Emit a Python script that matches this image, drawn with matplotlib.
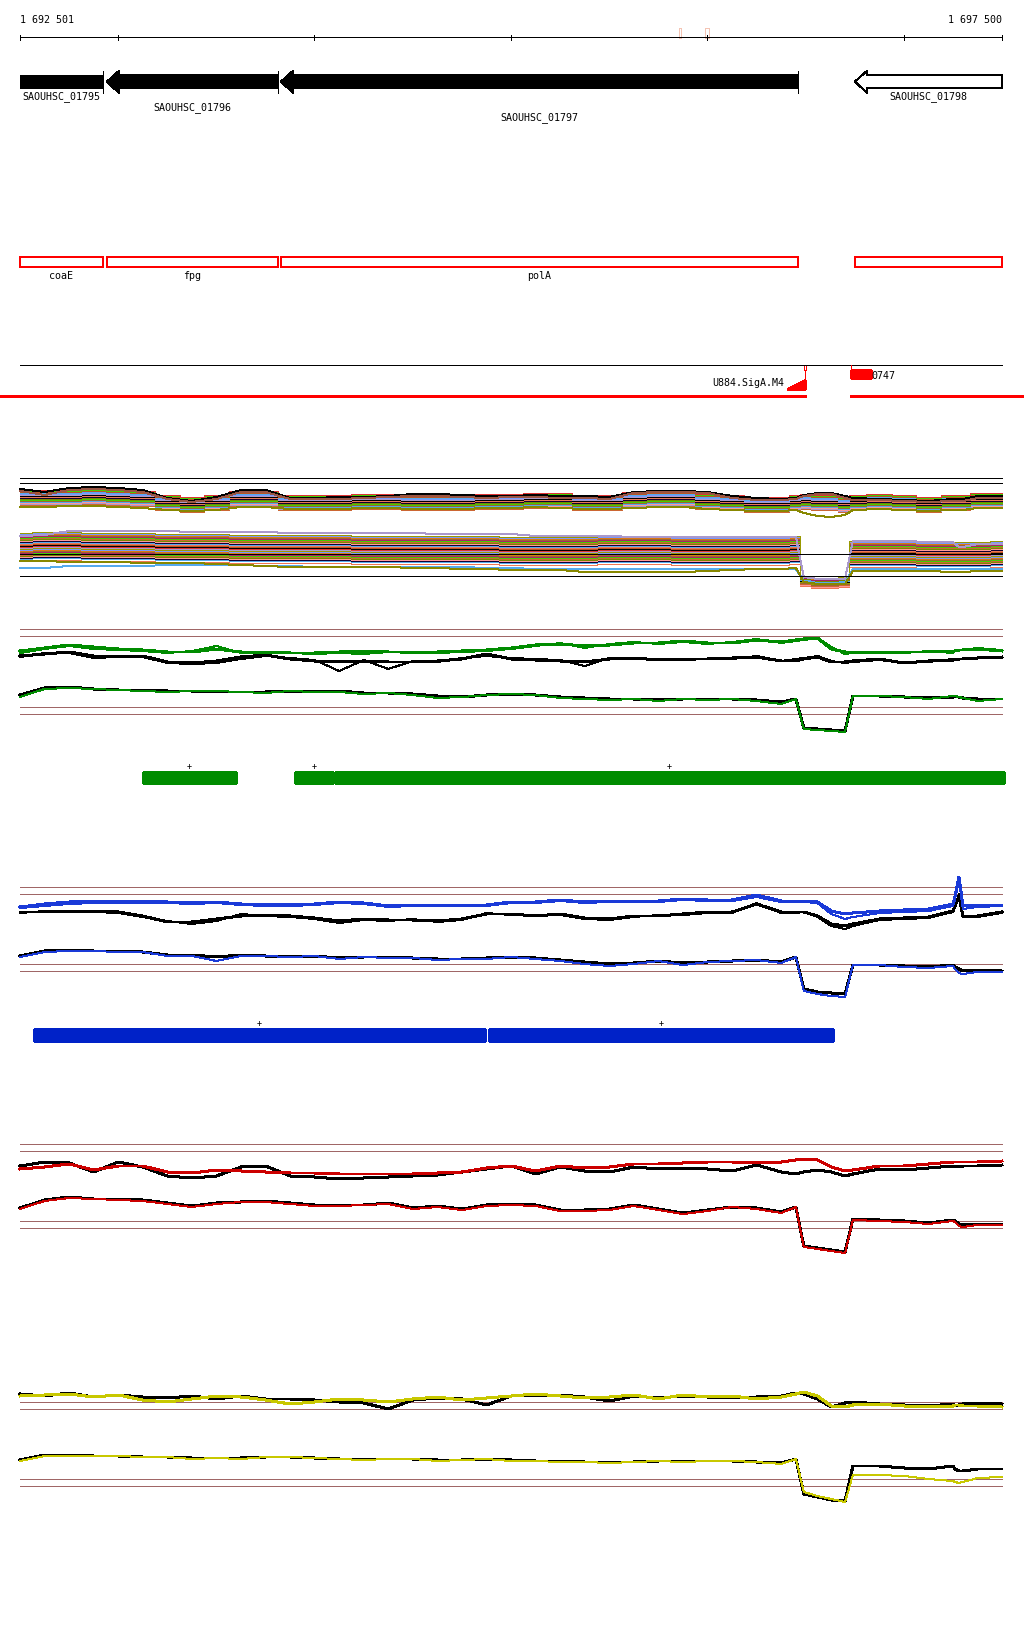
import numpy as np
import matplotlib.pyplot as plt
from matplotlib.patches import Polygon, Rectangle

plt.rcParams['lines.antialiased'] = False
plt.rcParams['patch.antialiased'] = False

W, H = 1024, 1640
debut, fin = 1692501, 1697500
bp_px = 4999 / 982.0
xg = debut - 20 * bp_px
xd = fin + 22 * bp_px
mono = 'DejaVu Sans Mono'
px1 = 0.72  # one pixel in points

# sample positions of the signal tracks (bp)
pos = [debut + o for o in list(range(0, 3876, 125)) +
       [3950, 3990, 4060, 4130, 4200, 4240, 4375, 4500, 4625, 4750, 4760, 4780, 4800, 4875, 4999]]

# genes / features
gene_names = ['SAOUHSC_01795', 'SAOUHSC_01796', 'SAOUHSC_01797', 'SAOUHSC_01798']
gene_left = [1692300, 1692944, 1693830, 1696752]
gene_right = [1692923, 1693814, 1696462, 1697700]
gene_fill = ['black', 'black', 'black', 'white']
gene_row = [0, 1, 2, 0]
feat_names = ['coaE', 'fpg', 'polA', '']
ticks = [debut, 1693000, 1694000, 1695000, 1696000, 1697000, fin]

# operons
green_left = [1693127, 1693901, 1694105]
green_right = [1693601, 1694094, 1697510]
blue_left = [1692572, 1694889]
blue_right = [1694868, 1696640]

# bundle track (many conditions)
up_mid = [102, 102, 102, 103, 102, 101, 97, 95, 97, 101, 101, 97, 97, 97, 98, 98, 97, 97, 97, 98,
          98, 99, 99, 97, 97, 100, 101, 101, 98, 97, 95, 95,
          97, 98, 97, 97, 95, 97, 98, 97, 95, 97, 97, 97, 97, 99, 99]
lo_mid = [52, 53, 53, 52, 52, 52, 51, 51, 51, 50, 50, 50, 50, 50, 49, 49, 49, 49, 49, 49,
          48, 48, 48, 48, 49, 49, 49, 48, 48, 48, 48, 48,
          49, 18, 16, 16, 17, 45, 45, 45, 44, 44, 44, 44, 44, 44, 45]
lo_spread = [1.0] * 32 + [1.0, 0.35, 0.35, 0.35, 0.35, 0.9, 0.9, 0.9, 0.9, 0.9, 0.9, 0.9, 0.9, 0.9, 0.9]
up_off = [-8, -7, -6, -5, -5, -4, -3, -3, -2, -2, -1, -1, 0, 0, 1, 1, 2, 2, 3, 3, 4, 5, 5, 6, 7]
lo_off = [-14, -12, -11, -10, -9, -8, -7, -6, -5, -4, -3, -2, -1, 0, 1, 2, 3, 4, 5, 6, 7, 8, 9, 10, 11, 12, 13, 14]
pal = ['#cc6633', '#ee7755', '#999900', '#44cc00', '#55aaee', '#aa99cc', '#aa2266', '#110033',
       '#dd3333', '#996633', '#ff9999', '#000000', '#dd7711', '#778800', '#bb5522', '#7799ff']
up_black_top = [110, 107, 111, 112, 111, 109, 101, 98, 102, 109, 109, 101, 101, 102, 102, 103, 105, 105, 104, 103,
                103, 104, 103, 103, 102, 107, 108, 108, 107, 103, 101, 100,
                101, 104, 106, 106, 103, 101, 100, 99, 98, 100, 100, 100, 100, 103, 103]
up_brown_top = [108, 104, 109, 110, 109, 107, 100, 97, 100, 107, 107, 100, 100, 100, 101, 102, 103, 103, 102, 101,
                102, 102, 101, 101, 100, 106, 107, 107, 106, 101, 99, 99,
                100, 103, 105, 105, 101, 99, 99, 98, 97, 98, 98, 98, 98, 101, 101]
up_low = [92, 92, 93, 93, 92, 91, 89, 88, 89, 92, 92, 90, 90, 90, 91, 91, 90, 90, 90, 91,
          91, 92, 91, 90, 90, 91, 92, 92, 90, 89, 88, 88,
          89, 86, 83, 82, 84, 89, 90, 89, 88, 89, 89, 89, 89, 91, 91]
lo_blue = [31, 31, 33, 33, 33, 33, 34, 34, 34, 34, 33, 33, 32, 32, 32, 32, 32, 32, 32, 31,
           31, 30, 30, 30, 30, 30, 30, 30, 30, 30, 30, 30,
           30, 18, 16, 16, 16, 30, 30, 30, 30, 30, 30, 30, 30, 30, 30]
lo_olive = [38, 38, 37, 37, 37, 36, 36, 36, 35, 34, 33, 32, 32, 32, 32, 32, 31, 31, 30, 30,
            29, 29, 29, 27, 27, 27, 27, 27, 28, 29, 30, 30,
            31, 17, 15, 15, 15, 28, 28, 28, 28, 27, 27, 27, 27, 28, 28]
lo_lav = [63, 64, 68, 68, 68, 68, 68, 67, 67, 67, 67, 66, 66, 66, 66, 66, 66, 65, 65, 65,
          65, 63, 63, 63, 63, 62, 62, 62, 62, 62, 62, 62,
          62, 22, 20, 20, 20, 58, 58, 58, 57, 57, 55, 52, 52, 55, 55]

# green track
g_up = [88, 91, 94, 92, 90, 89, 87, 87, 90, 87, 87, 86, 86, 87, 88, 87, 87, 87, 88, 89,
        91, 94, 95, 93, 94, 96, 96, 98, 96, 96, 99, 97,
        99, 100, 101, 90, 87, 87, 87, 87, 87, 88, 88, 89, 89, 90, 88]
g_up_thin = [86, 90, 93, 90, 89, 88, 86, 88, 93, 86, 86, 86, 85, 86, 85, 87, 86, 86, 87, 88,
             90, 93, 96, 91, 95, 97, 95, 97, 95, 97, 100, 96,
             98, 99, 101, 92, 85, 86, 86, 86, 88, 86, 88, 89, 89, 91, 89]
gk_up = [83, 85, 87, 83, 82, 83, 77, 76, 78, 82, 84, 80, 78, 77, 78, 77, 77, 78, 80, 85,
         80, 79, 78, 77, 80, 81, 79, 80, 80, 81, 82, 78,
         78, 80, 82, 77, 77, 78, 80, 76, 78, 79, 79, 80, 80, 81, 82]
gk_up_thin = [82, 86, 86, 81, 82, 82, 76, 75, 76, 80, 83, 81, 79, 68, 79, 70, 78, 77, 81, 83,
              81, 80, 79, 73, 81, 80, 80, 79, 80, 80, 83, 78,
              80, 81, 83, 78, 76, 77, 79, 76, 77, 80, 80, 80, 80, 81, 81]
g_lo = [42, 50, 51, 50, 49, 48, 47, 48, 48, 47, 46, 48, 47, 47, 45, 46, 44, 41, 42, 44,
        45, 44, 41, 40, 39, 40, 38, 40, 39, 40, 38, 35,
        40, 10, 9, 8, 7, 43, 43, 42, 40, 43, 43, 42, 41, 38, 40]
gk_lo = [44, 51, 52, 50, 49, 49, 48, 48, 47, 47, 47, 48, 47, 48, 46, 46, 45, 43, 42, 44,
         45, 44, 42, 41, 40, 40, 39, 40, 40, 40, 39, 37,
         40, 11, 10, 9, 8, 43, 43, 42, 41, 42, 42, 42, 41, 40, 40]

# blue track
b_up = [102, 105, 107, 108, 108, 108, 107, 106, 107, 105, 105, 104, 105, 107, 106, 103, 104, 103, 104, 104,
        107, 107, 109, 107, 108, 108, 108, 110, 109, 109, 114, 108,
        108, 108, 107, 98, 95, 96, 98, 99, 100, 105, 113, 132, 103, 104, 104]
b_up_thin = [101, 103, 105, 106, 106, 106, 106, 105, 106, 104, 103, 103, 104, 106, 105, 102, 103, 103, 103, 103,
             106, 106, 108, 106, 107, 107, 107, 109, 108, 108, 112, 107,
             107, 107, 106, 95, 90, 92, 96, 97, 98, 103, 110, 128, 100, 102, 103]
bk_up = [97, 97, 98, 98, 97, 93, 87, 87, 90, 93, 94, 93, 91, 88, 90, 89, 89, 88, 90, 95,
         95, 93, 95, 91, 90, 93, 93, 95, 97, 97, 105, 97,
         97, 97, 93, 85, 83, 85, 90, 91, 92, 98, 103, 113, 93, 93, 97]
bk_up_thin = [96, 98, 97, 97, 96, 92, 88, 85, 88, 95, 93, 92, 90, 86, 89, 88, 90, 87, 89, 96,
              94, 94, 94, 90, 89, 92, 94, 94, 96, 96, 106, 96,
              96, 97, 92, 83, 80, 83, 89, 90, 91, 97, 104, 115, 92, 92, 96]
b_lo = [52, 57, 58, 58, 57, 57, 53, 53, 48, 53, 53, 52, 53, 50, 52, 51, 51, 49, 50, 50,
        52, 50, 48, 45, 43, 45, 48, 44, 47, 48, 49, 46,
        52, 18, 15, 13, 12, 44, 44, 42, 41, 43, 40, 36, 35, 37, 37]
bk_lo = [53, 58, 59, 58, 58, 57, 54, 54, 52, 54, 53, 52, 53, 51, 52, 52, 51, 50, 50, 51,
         52, 51, 49, 47, 45, 46, 48, 46, 47, 48, 49, 47,
         52, 20, 17, 16, 15, 44, 44, 43, 42, 44, 42, 40, 38, 39, 38]

# red track
r_up = [100, 102, 105, 99, 103, 103, 97, 96, 99, 98, 97, 96, 96, 95, 95, 95, 95, 96, 97, 101,
        103, 98, 103, 101, 102, 105, 105, 106, 107, 107, 106, 107,
        109, 110, 109, 102, 98, 99, 103, 103, 105, 107, 107, 107, 107, 107, 108]
rk_up = [103, 107, 106, 97, 107, 102, 93, 91, 93, 102, 103, 93, 92, 90, 91, 92, 93, 94, 97, 100,
         103, 95, 102, 98, 97, 102, 100, 101, 100, 98, 104, 97,
         95, 97, 99, 97, 93, 95, 100, 99, 101, 103, 103, 102, 103, 103, 104]
r_lo = [60, 68, 71, 70, 69, 68, 65, 62, 65, 67, 67, 65, 63, 63, 64, 65, 60, 62, 59, 63,
        64, 63, 58, 58, 59, 63, 59, 55, 58, 62, 60, 56,
        62, 22, 20, 18, 16, 49, 48, 47, 45, 48, 47, 43, 42, 44, 44]
rk_lo = [61, 69, 72, 70, 70, 69, 66, 63, 66, 67, 68, 66, 64, 64, 64, 66, 61, 63, 60, 64,
         65, 64, 59, 59, 60, 64, 60, 56, 59, 62, 61, 57,
         62, 23, 21, 19, 17, 50, 49, 48, 46, 49, 48, 45, 44, 45, 45]

# yellow track
y_up = [123, 124, 125, 122, 124, 119, 117, 120, 123, 122, 119, 115, 117, 120, 119, 117, 120, 122, 119, 121,
        123, 125, 123, 121, 122, 124, 120, 124, 122, 123, 120, 122,
        125, 127, 123, 113, 112, 114, 115, 113, 112, 113, 114, 114, 113, 113, 112]
yk_up = [125, 123, 126, 122, 124, 122, 121, 123, 120, 123, 120, 120, 119, 117, 116, 110, 119, 121, 120, 114,
         123, 123, 124, 122, 118, 123, 121, 123, 122, 121, 122, 123,
         126, 125, 120, 112, 116, 117, 115, 114, 113, 115, 113, 114, 115, 116, 115]
y_lo = [58, 63, 63, 63, 63, 62, 62, 60, 61, 60, 62, 62, 61, 60, 59, 60, 60, 58, 59, 60,
        58, 58, 57, 57, 56, 57, 58, 57, 58, 58, 57, 55,
        60, 27, 23, 20, 17, 44, 44, 43, 40, 38, 37, 36, 37, 41, 42]
yk_lo = [59, 64, 64, 63, 63, 62, 62, 61, 61, 61, 62, 62, 61, 60, 60, 60, 60, 59, 59, 60,
         59, 58, 58, 57, 57, 57, 58, 58, 58, 58, 57, 56,
         60, 25, 22, 19, 18, 53, 53, 51, 50, 53, 50, 48, 48, 50, 50]

brown = '#a06666'
green = '#008c00'
blue = '#1a3ad8'
red = '#cc0000'
yellow = '#c8c800'

fig = plt.figure(figsize=(W / 100, H / 100), dpi=100)
ax = fig.add_axes([0, 0, 1, 1])
ax.set_xlim(xg, xd)
ax.set_ylim(H, 0)
ax.axis('off')

# ruler
ax.text(debut, 20, '1 692 501', ha='left', va='center', fontsize=7.2, family=mono)
ax.text(fin, 20, '1 697 500', ha='right', va='center', fontsize=7.2, family=mono)
ax.plot([debut, fin], [38, 38], color='black', lw=px1)
ax.vlines(ticks, 35.5, 40.5, color='black', lw=px1)
ax.add_patch(Rectangle((1695856, 29), 10, 10, fill=False, ec='#f4c4b4', lw=px1))
ax.add_patch(Rectangle((1695988, 29), 20, 10, fill=False, ec='#f4c4b4', lw=px1))

head = 60
for i in range(len(gene_names)):
    l, r = gene_left[i], gene_right[i]
    lv, rv = max(l, debut), min(r, fin)
    if l >= debut:
        pts = [(l, 82.5), (l + head, 72), (l + head, 76), (rv, 76), (rv, 89), (l + head, 89), (l + head, 94)]
    else:
        pts = [(lv, 76), (rv, 76), (rv, 89), (lv, 89)]
    ax.add_patch(Polygon(pts, closed=True, fc=gene_fill[i], ec='black', lw=px1))
    if r <= fin:
        ax.plot([r, r], [72, 94], color='black', lw=px1)
    xm = (lv + rv) / 2
    ax.text(xm, 97 + 10.5 * gene_row[i], gene_names[i], ha='center', va='center', fontsize=7.2, family=mono)
    ax.add_patch(Rectangle((lv, 258), rv - lv, 10, fill=False, ec='red', lw=1.1))
    ax.text(xm, 276, feat_names[i], ha='center', va='center', fontsize=7.2, family=mono)

# promoter / terminator line
ax.plot([debut, fin], [366, 366], color='black', lw=px1)
ax.plot([xg, 1696497], [397, 397], color='red', lw=px1 * 1.4)
ax.plot([1696731, xd], [397, 397], color='red', lw=px1 * 1.4)
ax.add_patch(Polygon([(1696405, 390), (1696497, 390), (1696497, 381)], closed=True, color='red'))
ax.plot([1696497, 1696497], [371, 390], color='red', lw=px1)
ax.add_patch(Rectangle((1696492, 366), 12, 5, fill=False, ec='red', lw=px1))
ax.text(1696390, 383, 'U884.SigA.M4', ha='right', va='center', fontsize=7.2, family=mono)
ax.plot([1696731, 1696731], [366, 372], color='red', lw=px1)
ax.add_patch(Rectangle((1696731, 371), 102, 8, color='red'))
ax.text(1696833, 376, '0747', ha='left', va='center', fontsize=7.2, family=mono)

# operon bars
for l, r in zip(green_left, green_right):
    ax.add_patch(Rectangle((l, 773), r - l, 11, color=green))
    ax.text((l + r) / 2, 767, '+', ha='center', va='center', fontsize=6, family=mono)
for l, r in zip(blue_left, blue_right):
    ax.add_patch(Rectangle((l, 1030), r - l, 12, color='#0022c8'))
    ax.text((l + r) / 2, 1023, '+', ha='center', va='center', fontsize=6, family=mono)


def track(top, bottom):
    a = fig.add_axes([0, 1 - bottom / H, 1, (bottom - top) / H])
    a.set_xlim(xg, xd)
    a.set_ylim(0, bottom - top)
    a.axis('off')
    return a


# bundle of all conditions
t = track(470, 600)
for i, o in enumerate(up_off):
    t.plot(pos, [m + o for m in up_mid], color=pal[(i * 5) % len(pal)], lw=px1, drawstyle='steps-mid')
for i, o in enumerate(lo_off):
    t.plot(pos, [m + o * s for m, s in zip(lo_mid, lo_spread)], color=pal[(i * 3 + 1) % len(pal)], lw=px1,
           drawstyle='steps-mid')
t.plot(pos, up_black_top, color='black', lw=px1)
t.plot(pos, up_brown_top, color='#995544', lw=px1)
t.plot(pos, up_low, color='#888800', lw=px1)
t.plot(pos, lo_blue, color='#55aaee', lw=px1)
t.plot(pos, lo_olive, color='#888800', lw=px1)
t.plot(pos, lo_lav, color='#aa99cc', lw=px1)
t.hlines([121, 116, 45, 23], debut, fin, color='black', lw=px1, zorder=3)


def signal(t, col, up, up_thin, k_up, k_up_thin, lo, k_lo, refs):
    t.hlines(refs, debut, fin, color=brown, lw=px1)
    if k_up_thin is not None:
        t.plot(pos, k_up_thin, color='black', lw=px1)
    t.plot(pos, k_up, color='black', lw=2 * px1)
    if up_thin is not None:
        t.plot(pos, up_thin, color=col, lw=px1)
    t.plot(pos, up, color=col, lw=2 * px1)
    t.plot(pos, k_lo, color='black', lw=2 * px1)
    t.plot(pos, lo, color=col, lw=px1)


signal(track(620, 740), green, g_up, g_up_thin, gk_up, gk_up_thin, g_lo, gk_lo, [110, 103, 32, 25])
signal(track(870, 1010), blue, b_up, b_up_thin, bk_up, bk_up_thin, b_lo, bk_lo, [122, 115, 45, 38])
signal(track(1140, 1270), red, r_up, None, rk_up, None, r_lo, rk_lo, [125, 118, 48, 41])
signal(track(1380, 1520), yellow, y_up, None, yk_up, None, y_lo, yk_lo, [117, 110, 40, 33])

fig.savefig('out.png', dpi=100)
